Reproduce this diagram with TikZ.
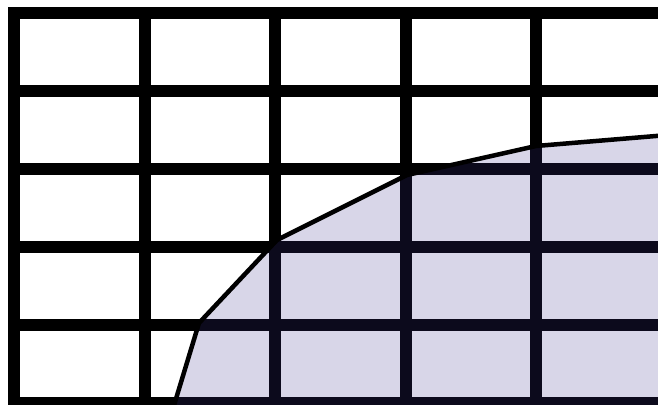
\documentclass[tikz,border=0pt]{standalone}
\usepackage{tikz}
\definecolor{shadeblue}{RGB}{60,50,140}

\begin{document}
\begin{tikzpicture}[x=1pt,y=-1pt,
  gridline/.style={line width=12pt,line cap=rect},
  region/.style={fill=shadeblue,fill opacity=0.2},
  edge/.style={line width=4.5pt,line join=miter}]
\useasboundingbox (0,0) rectangle (658,404);
\clip (0,0) rectangle (658,404);

% grid
\foreach \x in {14,144.5,275,405.5,536,666.5} \draw[gridline] (\x,13) -- (\x,420);
\foreach \y in {13,91,169,246.5,324.5,402.5} \draw[gridline] (14,\y) -- (680,\y);

% boundary points
\coordinate (p0) at (172,412);
\coordinate (p1) at (199,323);
\coordinate (p2) at (277,240);
\coordinate (p3) at (407,175);
\coordinate (p4) at (536,146);
\coordinate (p5) at (680,134);

\path[region] (p0) -- (p1) -- (p2) -- (p3) -- (p4) -- (p5) -- (680,420) -- cycle;
\draw[edge] (p0) -- (p1) -- (p2) -- (p3) -- (p4) -- (p5);
\end{tikzpicture}
\end{document}
